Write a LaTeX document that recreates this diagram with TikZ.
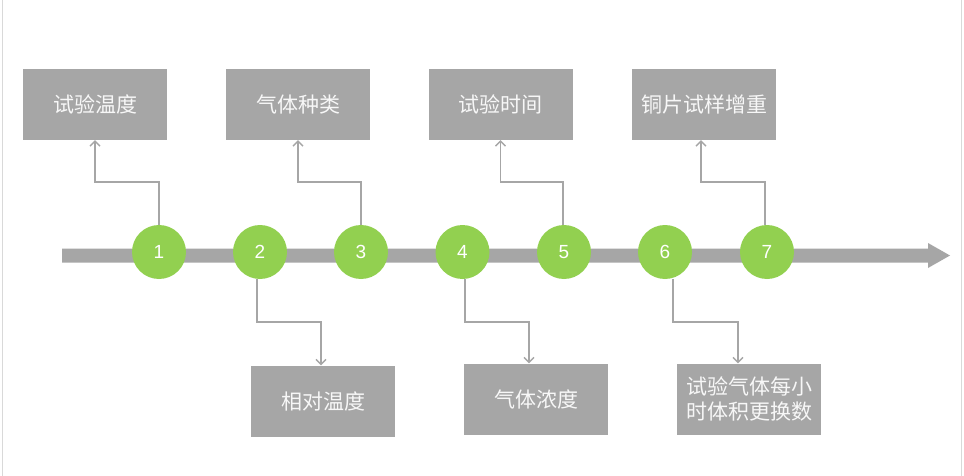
\documentclass[tikz,border=0pt]{standalone}
\usepackage{fontspec}
\setmainfont{Liberation Sans}
\newfontfamily\cjk{Noto Sans CJK SC}
\usetikzlibrary{arrows.meta,calc}
\definecolor{boxgray}{HTML}{A6A6A6}
\definecolor{dotgreen}{HTML}{92D050}
\definecolor{framegray}{HTML}{D9D9D9}
\definecolor{softwhite}{HTML}{F7F7F7}
\begin{document}
\begin{tikzpicture}[x=1pt,y=-1pt,
  infobox/.style={fill=boxgray,draw=none,minimum width=144pt,minimum height=71pt,
    text=softwhite,font=\cjk\fontsize{21}{24.5}\selectfont,align=center,inner sep=0pt},
  dot/.style={circle,fill=dotgreen,draw=none,minimum size=54pt,inner sep=0pt,
    text=white,font=\fontsize{19}{22}\selectfont},
  conn/.style={draw=boxgray,line width=1.3pt,-{Straight Barb[length=5pt,width=10pt]}}]
\useasboundingbox (0,0) rectangle (964,476);
\fill[white] (0,0) rectangle (964,476);
\draw[framegray,line width=1pt] (2.5,0) -- (2.5,476);
\draw[framegray,line width=1pt] (961.5,0) -- (961.5,476);
% timeline arrow
\fill[boxgray] (62,248.5) -- (928,248.5) -- (928,243) -- (950,255.5) -- (928,268) -- (928,262.5) -- (62,262.5) -- cycle;
% circles
\node[dot] (c1) at (159,252) {1};
\node[dot] (c2) at (260,252) {2};
\node[dot] (c3) at (361,252) {3};
\node[dot] (c4) at (462.5,252) {4};
\node[dot] (c5) at (564,252) {5};
\node[dot] (c6) at (665,252) {6};
\node[dot] (c7) at (767,252) {7};
% upper boxes
\node[infobox] (b1) at (95,104.5) {试验温度};
\node[infobox] (b3) at (298,104.5) {气体种类};
\node[infobox] (b5) at (500.5,104.5) {试验时间};
\node[infobox] (b7) at (704,104.5) {铜片试样增重};
% lower boxes
\node[infobox] (b2) at (323,401) {相对温度};
\node[infobox] (b4) at (536,399) {气体浓度};
\node[infobox] (b6) at (749,399) {试验气体每小\\时体积更换数};
% upper connectors
\draw[conn] (c1.north) -- (c1.north |- 0,182) -| (b1.south);
\draw[conn] (c3.north) -- (c3.north |- 0,182) -| (b3.south);
\draw[conn] ([xshift=-1pt]c5.north) -- ([xshift=-1pt]c5.north |- 0,182) -| (b5.south);
\draw[conn] ([xshift=-2pt]c7.north) -- ([xshift=-2pt]c7.north |- 0,182) -| ([xshift=-3pt]b7.south);
% lower connectors
\draw[conn] ([xshift=-3pt]c2.south) -- ([xshift=-3pt]c2.south |- 0,322) -| ([xshift=-2pt]b2.north);
\draw[conn] ([xshift=2.5pt]c4.south) -- ([xshift=2.5pt]c4.south |- 0,322) -| ([xshift=-7pt]b4.north);
\draw[conn] ([xshift=8pt]c6.south) -- ([xshift=8pt]c6.south |- 0,322) -| ([xshift=-11pt]b6.north);
\end{tikzpicture}
\end{document}
